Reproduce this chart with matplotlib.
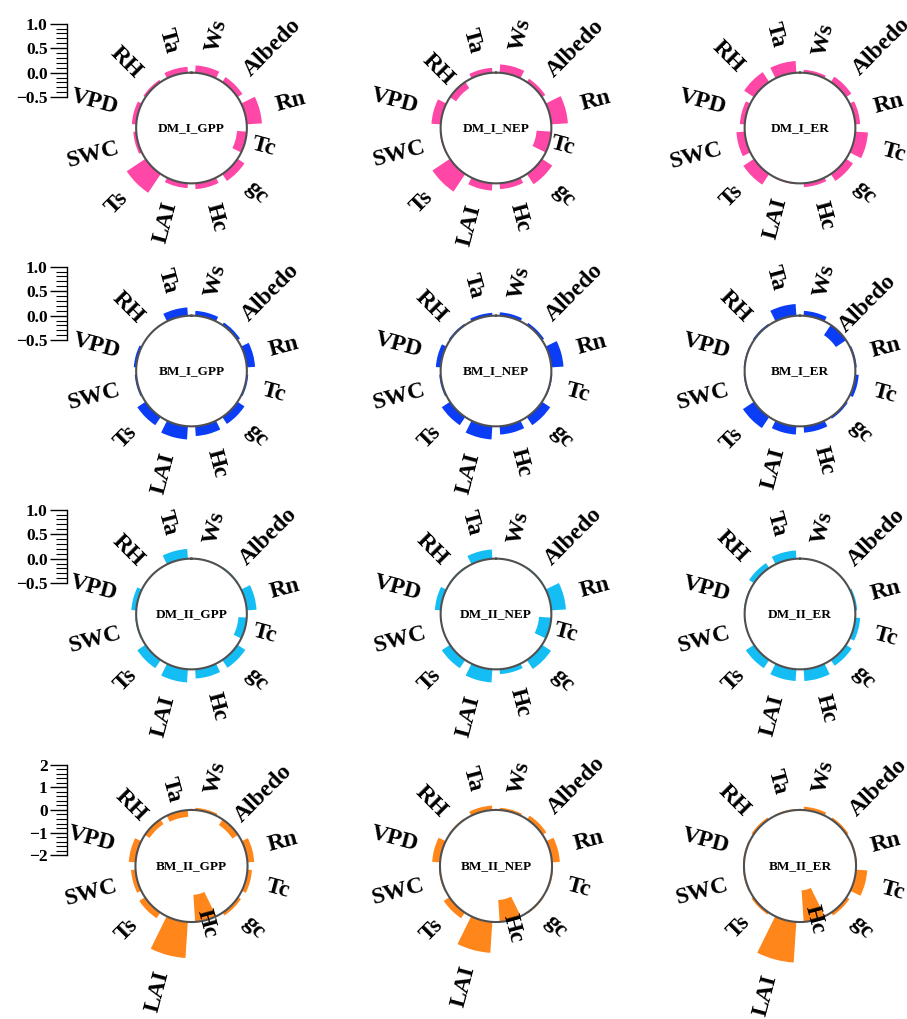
import numpy as np
import matplotlib
matplotlib.use("Agg")
import matplotlib.pyplot as plt

plt.rcParams["font.family"] = ["Liberation Serif", "DejaVu Serif"]
plt.rcParams["font.weight"] = "bold"

variables = ["Ta", "Ws", "Albedo", "Rn", "Tc", "gc", "Hc", "LAI", "Ts", "SWC", "VPD", "RH"]

titles = ["DM_I_GPP", "DM_I_NEP", "DM_I_ER",
          "BM_I_GPP", "BM_I_NEP", "BM_I_ER",
          "DM_II_GPP", "DM_II_NEP", "DM_II_ER",
          "BM_II_GPP", "BM_II_NEP", "BM_II_ER"]

dm_i_gpp = [0.12, 0.15, 0.12, 0.31, -0.20, 0.17, 0.12, 0.10, 0.46, 0.06, 0.09, 0.05]
dm_i_nep = [0.10, 0.17, 0.08, 0.34, -0.30, 0.25, 0.12, 0.15, 0.43, 0.02, 0.19, -0.15]
dm_i_er = [0.24, 0.06, 0.13, 0.10, 0.26, 0.17, 0.08, 0.02, 0.26, 0.17, 0.10, 0.24]
bm_i_gpp = [0.17, 0.10, 0.06, 0.17, 0.03, 0.17, 0.20, 0.27, 0.20, 0.03, 0.05, 0.01]
bm_i_nep = [0.06, 0.07, 0.05, 0.25, 0.02, 0.20, 0.17, 0.27, 0.20, 0.03, 0.10, 0.03]
bm_i_er = [0.24, 0.10, -0.25, 0.03, 0.07, 0.04, 0.13, 0.17, 0.27, 0.02, 0.02, 0.03]
dm_ii_gpp = [0.20, 0.01, 0.02, 0.20, -0.17, 0.19, 0.19, 0.27, 0.20, 0.02, 0.10, 0.00]
dm_ii_nep = [0.19, 0.01, 0.02, 0.30, -0.25, 0.22, 0.10, 0.27, 0.20, 0.01, 0.12, 0.02]
dm_ii_er = [0.17, 0.01, 0.01, 0.04, 0.10, 0.14, 0.24, 0.24, 0.20, 0.01, 0.02, 0.12]
bm_ii_gpp = [-0.30, 0.10, -0.30, 0.30, 0.20, 0.15, -1.20, 1.60, 0.30, 0.20, 0.30, -0.25]
bm_ii_nep = [0.20, 0.10, 0.20, 0.35, 0.05, 0.05, -0.97, 1.37, 0.30, 0.05, 0.35, 0.05]
bm_ii_er = [0.05, 0.15, 0.10, 0.05, 0.50, 0.15, -1.40, 1.80, 0.10, 0.05, 0.05, 0.10]

panel_values = [dm_i_gpp, dm_i_nep, dm_i_er,
                bm_i_gpp, bm_i_nep, bm_i_er,
                dm_ii_gpp, dm_ii_nep, dm_ii_er,
                bm_ii_gpp, bm_ii_nep, bm_ii_er]

row_colors = ["#FF47A8", "#0A3DF5", "#14BEF5", "#FF861A"]

# radial axis settings per row: (lower limit, pixels per unit, ticks shown)
row_scale = [(-1.13, 49.0, (-0.5, 1.0), 0.5, 0.1),
             (-1.13, 49.0, (-0.5, 1.0), 0.5, 0.1),
             (-1.13, 49.0, (-0.5, 1.0), 0.5, 0.1),
             (-2.48, 22.6, (-2, 2), 1, 0.2)]

W, H = 907, 1019
col_x = [191.5, 496, 800]
row_y = [128, 371, 614, 866]
R = 120  # axes half size in px

fig = plt.figure(figsize=(W / 100, H / 100), dpi=100)

# Ta sits just left of north, then clockwise
angles_deg = (-15 + 30 * np.arange(len(variables))) % 360
theta = np.deg2rad(angles_deg)
bar_w = np.deg2rad(30) * 0.75

for i, (title, vals) in enumerate(zip(titles, panel_values)):
    r, c = divmod(i, 3)
    cx, cy = col_x[c], row_y[r]
    ymin, ppu, span, major, minor = row_scale[r]
    ymax = ymin + R / ppu

    ax = fig.add_axes([(cx - R) / W, (H - cy - R) / H, 2 * R / W, 2 * R / H],
                      projection="polar")
    ax.set_theta_zero_location("N")
    ax.set_theta_direction(-1)
    ax.set_ylim(ymin, ymax)
    ax.axis("off")

    ax.bar(theta, vals, width=bar_w, bottom=0, color=row_colors[r],
           edgecolor="none", zorder=2)
    circ = np.linspace(0, 2 * np.pi, 300)
    ax.plot(circ, np.zeros_like(circ), color="#505050", lw=1.5, zorder=3)

    ax.text(0, ymin, title, ha="center", va="center", fontsize=9.5,
            fontweight="bold", zorder=4)

    for t, a, v, name in zip(theta, angles_deg, vals, variables):
        d = 12
        off = (d * np.sin(t), d * np.cos(t))
        if a < 180:
            rot, ha = 90 - a, "left"
        else:
            rot, ha = 270 - a, "right"
        ax.annotate(name, xy=(t, v), xytext=off, textcoords="offset points",
                    rotation=rot, rotation_mode="anchor", ha=ha, va="center",
                    fontsize=17, fontweight="bold", annotation_clip=False,
                    zorder=5)

    if c == 0:
        yax = fig.add_axes([67 / W, (H - cy) / H, 0.001, R / H])
        yax.set_ylim(ymin, ymax)
        yax.patch.set_visible(False)
        for s in ["top", "right", "bottom"]:
            yax.spines[s].set_visible(False)
        yax.spines["left"].set_bounds(*span)
        yax.spines["left"].set_linewidth(1.0)
        yax.set_xticks([])
        majors = np.arange(span[0], span[1] + 1e-9, major)
        yax.set_yticks(majors)
        yax.set_yticks(np.arange(span[0], span[1] + 1e-9, minor), minor=True)
        fmt = "{:.0f}" if major == 1 else "{:.1f}"
        yax.set_yticklabels([fmt.format(v).replace("-", "\u2212") for v in majors])
        yax.tick_params(axis="y", which="major", length=12, width=1.0,
                        labelsize=12.5, pad=2)
        yax.tick_params(axis="y", which="minor", length=8, width=0.8)
        for lab in yax.get_yticklabels():
            lab.set_fontweight("bold")

fig.savefig("out.png", dpi=100, facecolor="white")
